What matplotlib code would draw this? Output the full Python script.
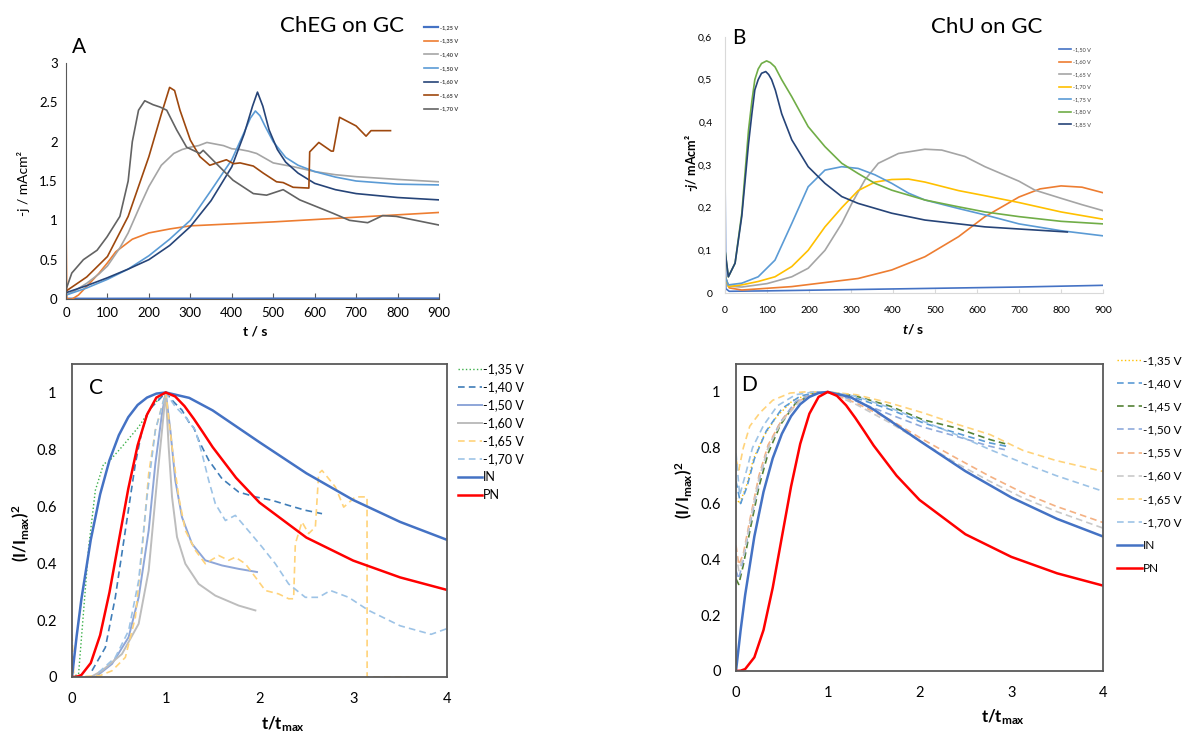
import matplotlib.pyplot as plt
from matplotlib.ticker import FuncFormatter

plt.rcParams['font.family'] = ['Lato', 'DejaVu Sans']
plt.rcParams['mathtext.fontset'] = 'custom'
plt.rcParams['mathtext.rm'] = 'Lato'
plt.rcParams['mathtext.bf'] = 'Lato:bold'
plt.rcParams['mathtext.it'] = 'Lato:italic:bold'

# ---------------- Panel A: ChEG on GC (t / s, -j / mAcm2) ----------------
a_t_125 = [0, 100, 200, 300, 400, 500, 600, 700, 800, 900]
a_j_125 = [0.004, 0.004, 0.005, 0.005, 0.005, 0.006, 0.006, 0.006, 0.007, 0.007]
a_t_135 = [0, 2, 15, 30, 50, 80, 100, 120, 160, 200, 250, 300, 400, 500, 600, 700, 800, 900]
a_j_135 = [1.05, 0.0, 0.0, 0.05, 0.16, 0.33, 0.46, 0.60, 0.76, 0.84, 0.89, 0.93, 0.955, 0.98, 1.01, 1.04, 1.07, 1.10]
a_t_140 = [0, 20, 50, 80, 100, 130, 150, 180, 200, 230, 260, 280, 300, 320, 340, 360, 380, 400,
           420, 440, 460, 500, 550, 600, 650, 700, 800, 900]
a_j_140 = [0.05, 0.1, 0.2, 0.32, 0.42, 0.65, 0.84, 1.2, 1.43, 1.7, 1.85, 1.9, 1.93, 1.95, 1.99, 1.97,
           1.95, 1.91, 1.9, 1.88, 1.85, 1.73, 1.68, 1.62, 1.58, 1.555, 1.52, 1.49]
a_t_150 = [0, 50, 100, 150, 200, 250, 300, 350, 400, 430, 445, 457, 468, 480, 500, 530, 560, 600, 650, 700, 800, 900]
a_j_150 = [0.05, 0.14, 0.25, 0.38, 0.55, 0.76, 1.0, 1.38, 1.77, 2.12, 2.3, 2.39, 2.33, 2.2, 2.0, 1.8, 1.7, 1.62,
           1.55, 1.5, 1.46, 1.45]
a_t_160 = [0, 50, 100, 150, 200, 250, 300, 350, 400, 430, 450, 462, 475, 490, 510, 530, 560, 600,
           650, 700, 800, 900]
a_j_160 = [0.08, 0.17, 0.27, 0.38, 0.5, 0.68, 0.92, 1.25, 1.68, 2.1, 2.45, 2.63, 2.45, 2.15, 1.9,
           1.74, 1.6, 1.47, 1.39, 1.34, 1.29, 1.26]
a_t_165 = [0, 50, 100, 150, 200, 230, 250, 262, 275, 300, 323, 347, 387, 404, 420, 452, 476, 508,
           524, 548, 586, 588, 610, 640, 645, 660, 700, 724, 736, 783]
a_j_165 = [0.1, 0.28, 0.54, 1.05, 1.81, 2.35, 2.69, 2.65, 2.4, 2.02, 1.81, 1.7, 1.77, 1.72, 1.73,
           1.69, 1.6, 1.49, 1.48, 1.42, 1.41, 1.87, 1.99, 1.88, 1.88, 2.31, 2.2, 2.07, 2.14, 2.14]
a_t_170 = [0, 14, 42, 75, 99, 130, 150, 160, 175, 190, 210, 227, 243, 267, 291, 323, 331, 363, 403,
           452, 484, 524, 564, 644, 684, 728, 764, 797, 900]
a_j_170 = [0.12, 0.33, 0.5, 0.62, 0.79, 1.05, 1.5, 2.0, 2.4, 2.52, 2.47, 2.44, 2.4, 2.15, 1.93, 1.85,
           1.89, 1.72, 1.51, 1.34, 1.32, 1.39, 1.26, 1.09, 1.0, 0.97, 1.06, 1.05, 0.94]

# ---------------- Panel B: ChU on GC ----------------
b_t_150 = [0, 2, 10, 100, 300, 500, 700, 900]
b_j_150 = [0.3, 0.01, 0.004, 0.005, 0.008, 0.011, 0.014, 0.018]
b_t_160 = [0, 10, 40, 159, 317, 397, 476, 556, 619, 700, 750, 800, 850, 900]
b_j_160 = [0.04, 0.012, 0.007, 0.015, 0.034, 0.054, 0.085, 0.132, 0.179, 0.225, 0.244, 0.251, 0.248, 0.235]
b_t_165 = [0, 8, 40, 100, 159, 198, 238, 278, 302, 333, 365, 413, 476, 516, 571, 619, 700, 738, 800, 850, 900]
b_j_165 = [0.04, 0.016, 0.014, 0.022, 0.038, 0.058, 0.1, 0.163, 0.21, 0.265, 0.304, 0.327, 0.337,
           0.335, 0.32, 0.296, 0.262, 0.241, 0.222, 0.207, 0.193]
b_t_170 = [0, 8, 40, 79, 119, 159, 198, 238, 278, 317, 357, 397, 437, 476, 516, 556, 619, 700, 800, 900]
b_j_170 = [0.04, 0.015, 0.019, 0.027, 0.038, 0.062, 0.1, 0.155, 0.2, 0.24, 0.26, 0.266, 0.267, 0.26,
           0.25, 0.24, 0.228, 0.212, 0.19, 0.173]
b_t_175 = [0, 8, 40, 79, 119, 159, 198, 238, 278, 317, 357, 397, 437, 476, 556, 619, 700, 800, 900]
b_j_175 = [0.04, 0.019, 0.023, 0.038, 0.077, 0.163, 0.249, 0.288, 0.296, 0.292, 0.277, 0.257, 0.234,
           0.218, 0.198, 0.183, 0.162, 0.146, 0.134]
b_t_180 = [0, 8, 24, 40, 56, 64, 71, 79, 87, 99, 108, 119, 135, 159, 198, 238, 278, 317, 357, 397,
           476, 556, 619, 700, 800, 900]
b_j_180 = [0.1, 0.038, 0.07, 0.187, 0.382, 0.45, 0.5, 0.525, 0.538, 0.544, 0.54, 0.53, 0.5, 0.46,
           0.39, 0.343, 0.304, 0.28, 0.257, 0.241, 0.218, 0.202, 0.19, 0.179, 0.168, 0.162]
b_t_185 = [0, 8, 24, 40, 56, 64, 71, 79, 87, 97, 104, 111, 120, 135, 159, 198, 238, 278, 317, 397,
           476, 619, 700, 815]
b_j_185 = [0.1, 0.038, 0.07, 0.18, 0.35, 0.42, 0.476, 0.5, 0.515, 0.519, 0.512, 0.5, 0.475, 0.42,
           0.359, 0.296, 0.257, 0.226, 0.21, 0.187, 0.171, 0.155, 0.15, 0.143]

# ---------------- Theoretical curves (t/tmax, (I/Imax)^2) ----------------
in_u = [0, 0.05, 0.1, 0.2, 0.3, 0.4, 0.5, 0.6, 0.7, 0.8, 0.9, 1.0, 1.25, 1.5, 2.0, 2.5, 3.0, 3.5, 4.0]
in_v = [0, 0.145, 0.273, 0.482, 0.642, 0.762, 0.85, 0.913, 0.956, 0.982, 0.996, 1.0, 0.981, 0.937,
        0.825, 0.716, 0.622, 0.545, 0.482]
pn_u = [0, 0.05, 0.1, 0.2, 0.3, 0.4, 0.5, 0.6, 0.7, 0.8, 0.9, 1.0, 1.1, 1.2, 1.3, 1.4, 1.5, 1.75,
        2.0, 2.5, 3.0, 3.5, 4.0]
pn_v = [0, 0.001, 0.007, 0.049, 0.147, 0.298, 0.48, 0.661, 0.814, 0.922, 0.982, 1.0, 0.986, 0.952,
        0.907, 0.858, 0.808, 0.7, 0.613, 0.49, 0.409, 0.35, 0.306]

# ---------------- Panel C ----------------
c_u_135 = [0, 0.07, 0.107, 0.178, 0.249, 0.338, 0.39, 0.533, 0.711, 0.853, 0.96, 1.0]
c_v_135 = [0, 0.01, 0.163, 0.457, 0.656, 0.75, 0.756, 0.809, 0.879, 0.95, 0.99, 1.0]
c_u_140 = [0.213, 0.356, 0.462, 0.569, 0.676, 0.747, 0.818, 0.924, 1.0, 1.067, 1.12, 1.173, 1.244,
           1.3, 1.351, 1.458, 1.6, 1.778, 1.956, 2.133, 2.311, 2.489, 2.667]
c_v_140 = [0.022, 0.104, 0.28, 0.515, 0.75, 0.867, 0.938, 0.973, 1.0, 0.973, 0.955, 0.938, 0.897,
           0.875, 0.832, 0.762, 0.697, 0.65, 0.633, 0.621, 0.603, 0.586, 0.574]
c_u_150 = [0.25, 0.427, 0.604, 0.711, 0.818, 0.889, 0.96, 1.0, 1.049, 1.102, 1.173, 1.28, 1.422,
           1.6, 1.778, 1.973]
c_v_150 = [0, 0.046, 0.14, 0.28, 0.515, 0.75, 0.926, 1.0, 0.867, 0.691, 0.562, 0.468, 0.41, 0.392,
           0.38, 0.369]
c_u_160 = [0.2, 0.32, 0.533, 0.711, 0.818, 0.907, 0.978, 1.0, 1.031, 1.067, 1.12, 1.209, 1.351,
           1.529, 1.778, 1.956]
c_v_160 = [0, 0.022, 0.081, 0.187, 0.374, 0.691, 0.926, 1.0, 0.809, 0.633, 0.492, 0.398, 0.327,
           0.286, 0.251, 0.234]
c_u_165 = [0, 0.02, 0.3, 0.427, 0.569, 0.676, 0.747, 0.818, 0.889, 1.0, 1.067, 1.138, 1.209, 1.316,
           1.422, 1.564, 1.671, 1.742, 1.849, 1.956, 2.062, 2.204, 2.311, 2.364, 2.382, 2.453, 2.524,
           2.596, 2.631, 2.667, 2.809, 2.898, 3.022, 3.147, 3.148, 3.6]
c_v_165 = [0.15, 0, 0.005, 0.022, 0.069, 0.21, 0.445, 0.715, 0.867, 1.0, 0.809, 0.633, 0.515, 0.445,
           0.398, 0.427, 0.41, 0.421, 0.398, 0.351, 0.304, 0.292, 0.275, 0.275, 0.468, 0.545, 0.504,
           0.527, 0.715, 0.726, 0.668, 0.597, 0.633, 0.633, 0, 0]
c_u_170 = [0.284, 0.462, 0.604, 0.711, 0.8, 0.889, 1.0, 1.102, 1.209, 1.316, 1.387, 1.458, 1.529,
           1.636, 1.742, 1.849, 2.027, 2.169, 2.311, 2.489, 2.631, 2.756, 2.951, 3.164, 3.5, 3.83, 4.0]
c_v_170 = [0.016, 0.069, 0.163, 0.339, 0.633, 0.867, 1.0, 0.95, 0.914, 0.867, 0.785, 0.691, 0.609,
           0.55, 0.568, 0.527, 0.457, 0.398, 0.327, 0.28, 0.28, 0.304, 0.28, 0.234, 0.18, 0.15, 0.17]

# ---------------- Panel D ----------------
d_u_135 = [0, 0.04, 0.12, 0.19, 0.3, 0.44, 0.62, 0.85, 1.0]
d_v_135 = [0.62, 0.6, 0.67, 0.76, 0.84, 0.91, 0.97, 0.998, 1.0]
d_u_140 = [0, 0.05, 0.12, 0.2, 0.33, 0.5, 0.7, 0.9, 1.0, 1.31, 1.68, 2.04, 2.4, 2.77, 2.95]
d_v_140 = [0.68, 0.6, 0.66, 0.76, 0.86, 0.94, 0.985, 1.0, 1.0, 0.978, 0.937, 0.889, 0.853, 0.817, 0.805]
d_u_145 = [0, 0.03, 0.08, 0.15, 0.25, 0.35, 0.48, 0.65, 0.85, 1.0, 1.31, 1.68, 2.04, 2.4, 2.77, 2.97]
d_v_145 = [0.33, 0.31, 0.38, 0.5, 0.66, 0.78, 0.88, 0.96, 0.995, 1.0, 0.985, 0.949, 0.9, 0.871, 0.829, 0.811]
d_u_150 = [0, 0.03, 0.08, 0.15, 0.25, 0.35, 0.48, 0.65, 0.85, 1.0, 1.31, 1.68, 2.04, 2.4, 2.77, 2.93]
d_v_150 = [0.36, 0.33, 0.4, 0.52, 0.68, 0.8, 0.89, 0.965, 0.997, 1.0, 0.967, 0.919, 0.874, 0.841, 0.805, 0.793]
d_u_155 = [0, 0.03, 0.08, 0.15, 0.25, 0.35, 0.5, 0.7, 0.9, 1.0, 1.31, 1.68, 2.04, 2.4, 2.77, 3.13, 3.49, 4.0]
d_v_155 = [0.45, 0.38, 0.42, 0.54, 0.7, 0.81, 0.9, 0.97, 0.998, 1.0, 0.96, 0.9, 0.829, 0.763, 0.697,
           0.638, 0.59, 0.532]
d_u_160 = [0, 0.03, 0.08, 0.15, 0.25, 0.35, 0.5, 0.7, 0.9, 1.0, 1.31, 1.68, 2.04, 2.4, 2.77, 3.13, 3.49, 4.0]
d_v_160 = [0.42, 0.36, 0.41, 0.53, 0.69, 0.8, 0.895, 0.968, 0.997, 1.0, 0.955, 0.889, 0.817, 0.745,
           0.679, 0.62, 0.572, 0.512]
d_u_165 = [0, 0.03, 0.08, 0.15, 0.26, 0.4, 0.59, 0.75, 1.0, 1.31, 1.68, 2.04, 2.4, 2.77, 3.13, 3.49, 4.0]
d_v_165 = [0.76, 0.72, 0.8, 0.877, 0.925, 0.97, 0.996, 1.0, 1.0, 0.99, 0.96, 0.925, 0.885, 0.847, 0.79,
           0.754, 0.715]
d_u_170 = [0, 0.04, 0.1, 0.18, 0.3, 0.45, 0.65, 0.85, 1.0, 1.31, 1.68, 2.04, 2.4, 2.77, 3.13, 3.49, 4.0]
d_v_170 = [0.78, 0.63, 0.7, 0.8, 0.88, 0.95, 0.99, 1.0, 1.0, 0.984, 0.943, 0.895, 0.847, 0.793, 0.745,
           0.7, 0.644]

W, H = 1187, 733
fig = plt.figure(figsize=(W / 100, H / 100), dpi=100)


def px_axes(l, t, r, b):
    return fig.add_axes([l / W, 1 - b / H, (r - l) / W, (b - t) / H])


def ftext(x, y, s, **kw):
    fig.text(x / W, 1 - y / H, s, ha='center', va='center', **kw)


def legend_at(ax, x, y, **kw):
    leg = ax.legend(loc='upper left', bbox_to_anchor=(x / W, 1 - y / H), bbox_transform=fig.transFigure,
                    frameon=False, borderpad=0, borderaxespad=0, **kw)
    return leg


comma = FuncFormatter(lambda v, p: ('%g' % round(v, 2)).replace('.', ','))
plain = FuncFormatter(lambda v, p: '%g' % round(v, 2))

# ---- Panel A ----
ax = px_axes(66, 63, 439, 299)
ax.plot(a_t_125, a_j_125, color='#4472C4', lw=1.6, label='-1,25 V')
ax.plot(a_t_135, a_j_135, color='#ED7D31', lw=1.2, label='-1,35 V')
ax.plot(a_t_140, a_j_140, color='#A5A5A5', lw=1.2, label='-1,40 V')
ax.plot(a_t_150, a_j_150, color='#5B9BD5', lw=1.2, label='-1,50 V')
ax.plot(a_t_160, a_j_160, color='#264478', lw=1.2, label='-1,60 V')
ax.plot(a_t_165, a_j_165, color='#9E480E', lw=1.2, label='-1,65 V')
ax.plot(a_t_170, a_j_170, color='#636363', lw=1.2, label='-1,70 V')
ax.set_xlim(0, 900)
ax.set_ylim(0, 3)
ax.set_xticks(range(0, 901, 100))
ax.set_yticks([0, 0.5, 1, 1.5, 2, 2.5, 3])
ax.yaxis.set_major_formatter(plain)
for s in ['top', 'right']:
    ax.spines[s].set_visible(False)
ax.spines['left'].set_color('#595959')
ax.spines['bottom'].set_color('#595959')
ax.tick_params(axis='x', direction='in', length=4, color='#595959', labelsize=9.5, pad=6)
ax.tick_params(axis='y', length=0, labelsize=9.5, pad=6)
leg = legend_at(ax, 424, 25, fontsize=4, handlelength=2.6, handletextpad=0.3, labelspacing=1.55)
for t in leg.get_texts():
    t.set_fontweight('bold')
    t.set_color('#404040')
ftext(342, 26, 'ChEG on GC', fontsize=16)
ftext(79, 47, 'A', fontsize=15)
ftext(24, 183, '-j / mAcm²', fontsize=10, rotation=90)
ftext(255, 332, 't / s', fontsize=10, fontweight='bold')

# ---- Panel B ----
ax = px_axes(725, 37, 1103, 293)
ax.plot(b_t_150, b_j_150, color='#4472C4', lw=1.2, label='-1,50 V')
ax.plot(b_t_160, b_j_160, color='#ED7D31', lw=1.2, label='-1,60 V')
ax.plot(b_t_165, b_j_165, color='#A5A5A5', lw=1.2, label='-1,65 V')
ax.plot(b_t_170, b_j_170, color='#FFC000', lw=1.2, label='-1,70 V')
ax.plot(b_t_175, b_j_175, color='#5B9BD5', lw=1.2, label='-1,75 V')
ax.plot(b_t_180, b_j_180, color='#70AD47', lw=1.2, label='-1,80 V')
ax.plot(b_t_185, b_j_185, color='#264478', lw=1.2, label='-1,85 V')
ax.set_xlim(0, 900)
ax.set_ylim(0, 0.6)
ax.set_xticks(range(0, 901, 100))
ax.set_yticks([0, 0.1, 0.2, 0.3, 0.4, 0.5, 0.6])
ax.yaxis.set_major_formatter(comma)
for s in ['top', 'right']:
    ax.spines[s].set_visible(False)
ax.spines['left'].set_color('#D9D9D9')
ax.spines['bottom'].set_color('#D9D9D9')
ax.tick_params(axis='x', direction='in', length=3, color='#D9D9D9', labelsize=7.5, pad=9)
ax.tick_params(axis='y', length=0, labelsize=7.5, pad=9)
leg = legend_at(ax, 1059, 47, fontsize=4, handlelength=2.2, handletextpad=0.3, labelspacing=1.35)
for t in leg.get_texts():
    t.set_color('#404040')
ftext(987, 27, 'ChU on GC', fontsize=16)
ftext(739, 38, 'B', fontsize=15)
ftext(692, 163, r'-$\it{j}$/ mAcm²', fontsize=9, fontweight='bold', rotation=90)
ftext(913, 329, r'$\it{t}$/ s', fontsize=10, fontweight='bold')

# ---- Panels C and D ----
dash = (0, (4, 2.5))


def box_axes(ax):
    ax.set_xlim(0, 4)
    ax.set_ylim(0, 1.1)
    ax.set_xticks([0, 1, 2, 3, 4])
    ax.set_yticks([0, 0.2, 0.4, 0.6, 0.8, 1])
    ax.yaxis.set_major_formatter(plain)
    for s in ax.spines.values():
        s.set_color('#595959')
        s.set_linewidth(1.3)


ax = px_axes(72, 364, 447, 677)
ax.plot(c_u_135, c_v_135, color='#3CB04A', lw=1.0, ls=':', label='-1,35 V')
ax.plot(c_u_140, c_v_140, color='#3F7DB8', lw=1.2, ls=dash, label='-1,40 V')
ax.plot(c_u_150, c_v_150, color='#8EA6D8', lw=1.4, label='-1,50 V')
ax.plot(c_u_160, c_v_160, color='#BDBDBD', lw=1.4, label='-1,60 V')
ax.plot(c_u_165, c_v_165, color='#FFD37A', lw=1.2, ls=dash, label='-1,65 V')
ax.plot(c_u_170, c_v_170, color='#9DC3E6', lw=1.2, ls=dash, label='-1,70 V')
ax.plot(in_u, in_v, color='#4472C4', lw=1.8, label='IN')
ax.plot(pn_u, pn_v, color='#FF0000', lw=1.8, label='PN')
box_axes(ax)
ax.tick_params(length=0, labelsize=10.5, pad=11)
legend_at(ax, 458, 363, fontsize=9, handlelength=1.9, handletextpad=0.1, labelspacing=0.48)
ftext(96, 388, 'C', fontsize=15)
ftext(21, 533, r'$\mathbf{(I/I_{max})^2}$', fontsize=12, rotation=90)
ftext(283, 724, r'$\mathbf{t/t_{max}}$', fontsize=12)

ax = px_axes(736, 364, 1103, 671)
ax.plot(d_u_135, d_v_135, color='#FFC000', lw=1.0, ls=':', label='-1,35 V')
ax.plot(d_u_140, d_v_140, color='#5B9BD5', lw=1.2, ls=dash, label='-1,40 V')
ax.plot(d_u_145, d_v_145, color='#548235', lw=1.2, ls=dash, label='-1,45 V')
ax.plot(d_u_150, d_v_150, color='#8FAADC', lw=1.2, ls=dash, label='-1,50 V')
ax.plot(d_u_155, d_v_155, color='#F4B183', lw=1.2, ls=dash, label='-1,55 V')
ax.plot(d_u_160, d_v_160, color='#C9C9C9', lw=1.2, ls=dash, label='-1,60 V')
ax.plot(d_u_165, d_v_165, color='#FFD37A', lw=1.2, ls=dash, label='-1,65 V')
ax.plot(d_u_170, d_v_170, color='#9DC3E6', lw=1.2, ls=dash, label='-1,70 V')
ax.plot(in_u, in_v, color='#4472C4', lw=1.8, label='IN')
ax.plot(pn_u, pn_v, color='#FF0000', lw=1.8, label='PN')
box_axes(ax)
ax.tick_params(length=0, labelsize=10.5, pad=11)
legend_at(ax, 1117, 355, fontsize=8.5, handlelength=2.1, handletextpad=0.1, labelspacing=1.03)
ftext(749, 385, 'D', fontsize=15)
ftext(684, 490, r'$\mathbf{(I/I_{max})^2}$', fontsize=12, rotation=90)
ftext(1003, 717, r'$\mathbf{t/t_{max}}$', fontsize=12)

fig.savefig('out.png', dpi=100)
